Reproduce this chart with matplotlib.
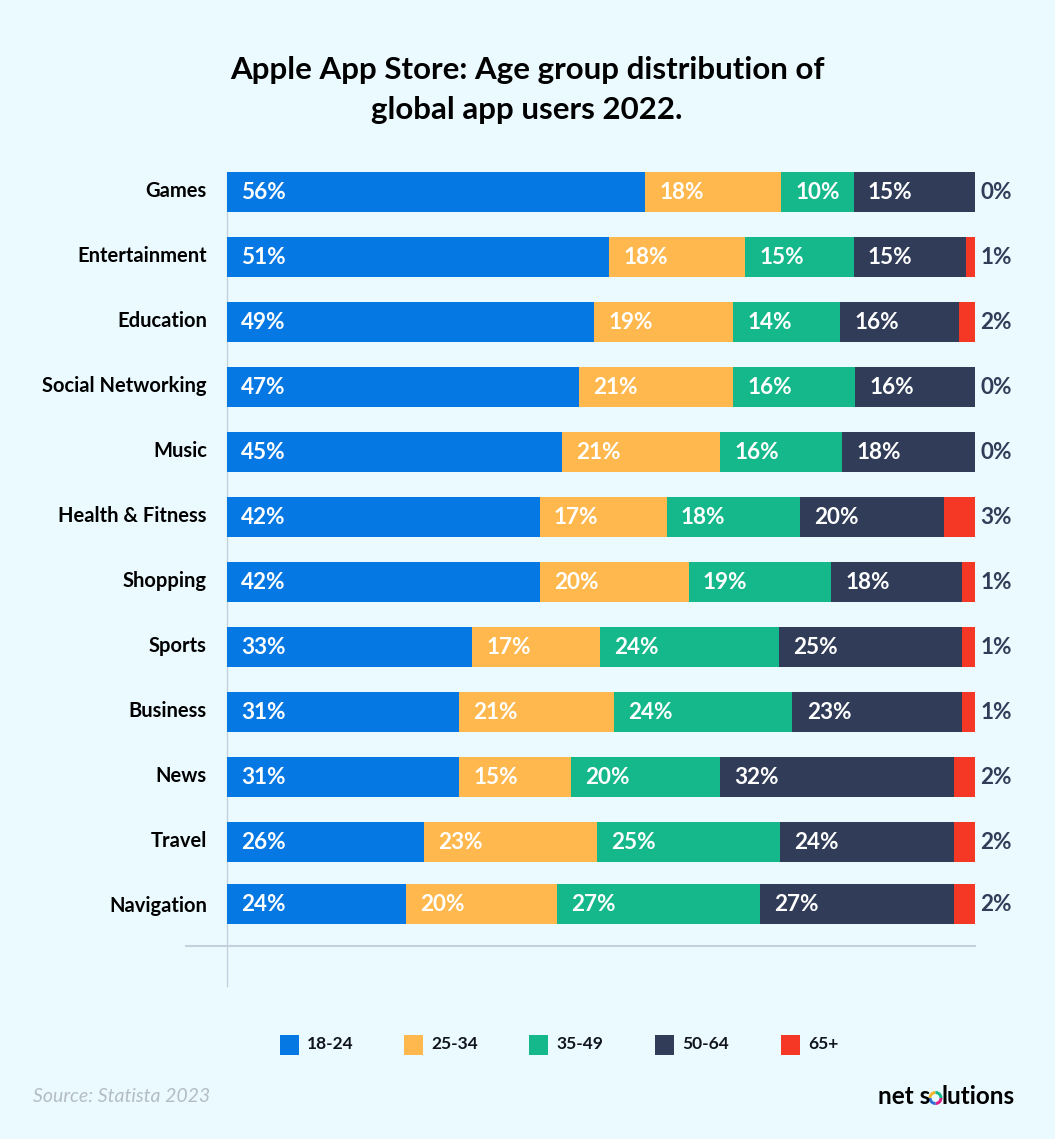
import matplotlib
matplotlib.use("Agg")
import matplotlib.pyplot as plt
from matplotlib.lines import Line2D
from matplotlib.patches import Rectangle, Wedge

plt.rcParams['font.family'] = ['Lato', 'DejaVu Sans']

categories = ["Games", "Entertainment", "Education", "Social Networking", "Music",
              "Health & Fitness", "Shopping", "Sports", "Business", "News", "Travel",
              "Navigation"]
age_groups = ["18-24", "25-34", "35-49", "50-64", "65+"]

# bar lengths as measured on the picture (they fill 100% even when labels do not add up)
w_18_24 = [55.9, 51.1, 49.1, 47.1, 44.8, 41.8, 41.8, 32.8, 31.0, 31.0, 26.3, 23.9]
w_25_34 = [18.2, 18.2, 18.6, 20.6, 21.1, 17.0, 19.9, 17.1, 20.7, 15.0, 23.1, 20.2]
w_35_49 = [9.7, 14.5, 14.3, 16.3, 16.3, 17.8, 19.1, 23.9, 23.9, 19.9, 24.5, 27.1]
w_50_64 = [16.2, 15.0, 15.9, 16.0, 17.8, 19.3, 17.5, 24.5, 22.7, 31.3, 23.3, 26.0]
w_65 = [0, 1.2, 2.1, 0, 0, 4.1, 1.7, 1.7, 1.7, 2.8, 2.8, 2.8]

# printed labels
l_18_24 = [56, 51, 49, 47, 45, 42, 42, 33, 31, 31, 26, 24]
l_25_34 = [18, 18, 19, 21, 21, 17, 20, 17, 21, 15, 23, 20]
l_35_49 = [10, 15, 14, 16, 16, 18, 19, 24, 24, 20, 25, 27]
l_50_64 = [15, 15, 16, 16, 18, 20, 18, 25, 23, 32, 24, 27]
l_65 = [0, 1, 2, 0, 0, 3, 1, 1, 1, 2, 2, 2]

colors = ["#0678e3", "#ffb84d", "#14b88a", "#313d58", "#f53825"]
bg = "#ebfaff"
W, H = 1055, 1139

fig = plt.figure(figsize=(W / 100, H / 100), dpi=100, facecolor=bg)

# axis lines go under the bars
fig.add_artist(Line2D([186 / W, 975 / W], [1 - 946 / H] * 2, color="#c5d0dc", lw=1.5, zorder=-1))
fig.add_artist(Line2D([227 / W] * 2, [1 - 172 / H, 1 - 986 / H], color="#c5d0dc", lw=1, zorder=-1))

# axes spans the bar area, 227-975 px across and 152-946 px down
ax = fig.add_axes([227 / W, 1 - 946 / H, 748 / W, 794 / H])
ax.patch.set_alpha(0)
ax.set_xlim(0, 100)
# one row is 65 px, the first row is centred at 192 px
ax.set_ylim((946 - 192) / 65, (152 - 192) / 65)
ax.axis("off")

y_pos = list(range(11)) + [10.95]
widths = [w_18_24, w_25_34, w_35_49, w_50_64, w_65]
labels = [l_18_24, l_25_34, l_35_49, l_50_64, l_65]

left = [0] * len(categories)
for s in range(5):
    ax.barh(y_pos, widths[s], left=left, height=40 / 65, color=colors[s], linewidth=0)
    if s < 4:
        for r in range(len(categories)):
            ax.text(left[r] + 1.9, y_pos[r] + 0.015, f"{labels[s][r]}%", color="white",
                    fontsize=16.2, fontweight="bold", va="center", ha="left")
    left = [a + b for a, b in zip(left, widths[s])]

for r in range(len(categories)):
    ax.text(100.75, y_pos[r] + 0.015, f"{l_65[r]}%", color=colors[3], fontsize=16.2,
            fontweight="bold", va="center", ha="left")
    # the category labels keep the regular row spacing, also on the last row
    ax.text(-2.7, r - 0.02, categories[r], color="black", fontsize=14.5,
            fontweight="bold", va="center", ha="right")

fig.text(527 / W, 1 - 90 / H, "Apple App Store: Age group distribution of\nglobal app users 2022.",
         ha="center", va="center", fontsize=22.5, fontweight="bold", color="black",
         linespacing=1.5)

# legend
legend_x = [280, 404, 529, 655, 781]
for x, name, c in zip(legend_x, age_groups, colors):
    fig.add_artist(Rectangle((x / W, 1 - 1055 / H), 19 / W, 20 / H, color=c, lw=0,
                             transform=fig.transFigure))
    fig.text((x + 27) / W, 1 - 1044 / H, name, fontsize=12.5, fontweight="bold",
             color="#10141f", va="center", ha="left")

fig.text(33 / W, 1 - 1097 / H, "Source: Statista 2023", fontsize=14, style="italic",
         color="#b4bcc4", va="center", ha="left")

# logo, the o is a small coloured ring
fig.text(878 / W, 1 - 1097 / H, "net s", fontsize=17.5, fontweight="bold", color="black",
         va="center", ha="left")
fig.text(1015 / W, 1 - 1097 / H, "lutions", fontsize=17.5, fontweight="bold", color="black",
         va="center", ha="right")
logo_ax = fig.add_axes([0, 0, 1, 1])
logo_ax.set_xlim(0, W)
logo_ax.set_ylim(H, 0)
logo_ax.axis("off")
ring_colors = ["#e0218a", "#2f6fd6", "#f2b632", "#14b88a"]
for k, c in enumerate(ring_colors):
    logo_ax.add_patch(Wedge((935.5, 1098), 7, 90 * k, 90 * (k + 1), width=3, color=c, lw=0))

fig.savefig("out.png", dpi=100, facecolor=bg)
